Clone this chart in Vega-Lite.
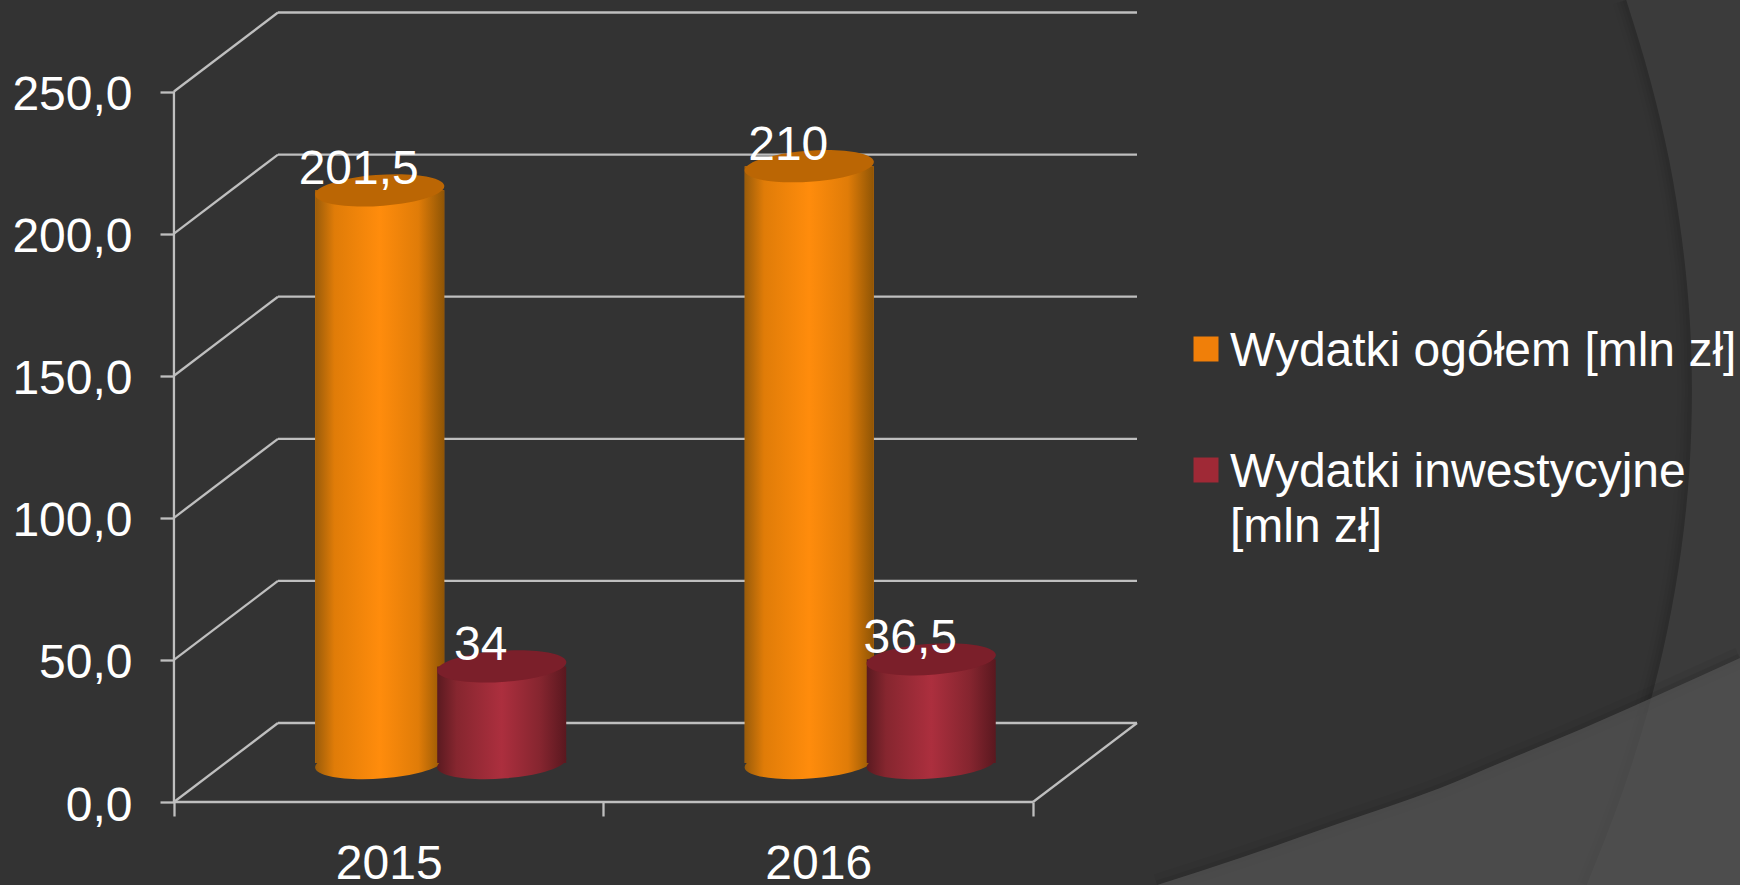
{
"$schema":"https://vega.github.io/schema/vega-lite/v6.json",
"width":1740,"height":885,"padding":0,"autosize":{"type":"none"},"background":"#333333",
"config":{"view":{"stroke":null},"font":"Liberation Sans","style":{"guide-label":{"lineHeight":55,"dy":3}}},
"datasets":{
"bars":[
{"year":2015,"series":"Wydatki ogółem [mln zł]","value":201.5,"label":"201,5"},
{"year":2016,"series":"Wydatki ogółem [mln zł]","value":210,"label":"210"},
{"year":2015,"series":"Wydatki inwestycyjne [mln zł]","value":34,"label":"34"},
{"year":2016,"series":"Wydatki inwestycyjne [mln zł]","value":36.5,"label":"36,5"}],
"grid":[{"value":0},{"value":50},{"value":100},{"value":150},{"value":200},{"value":250}],
"swoosh":[{"a":2016.789,"b":-29.2},{"a":2016.982,"b":-19.7},{"a":2017.215,"b":-7.4},{"a":2017.448,"b":4.9},{"a":2017.604,"b":14.8},{"a":2017.727,"b":22.5},{"a":2017.944,"b":36.9},{"a":2018.146,"b":50.7}],
"arc":[{"a":2017.881,"b":282.2},{"a":2017.937,"b":254},{"a":2017.981,"b":225.9},{"a":2018.011,"b":197.7},{"a":2018.029,"b":169.6},{"a":2018.034,"b":144.6},{"a":2018.028,"b":116.8},{"a":2018.009,"b":88.7},{"a":2017.977,"b":60.5},{"a":2017.932,"b":32.4},{"a":2017.874,"b":4.2},{"a":2017.789,"b":-29.2}]
},
"layer":[
{"data":{"name":"arc"},"mark":{"type":"line","orient":"horizontal","color":"#000000","opacity":0.02,"strokeWidth":28,"interpolate":"monotone"},
 "encoding":{"x":{"field":"a","type":"quantitative","scale":{"domain":[2014.095,2018.146],"nice":false,"zero":false,"padding":0},
   "axis":{"orient":"bottom","offset":-83,"values":[2014.5,2015,2015.5,2016,2016.5],"title":null,"domain":false,"grid":false,"tickSize":14,"tickWidth":2.3,"tickColor":"#bfbfbf","tickOpacity":{"condition":{"test":"datum.value % 1 == 0","value":0},"value":1},"labelExpr":"datum.value % 1 == 0 ? format(datum.value,'d') : ''","labelFontSize":48,"labelColor":"#ffffff","labelPadding":21,"labelOverlap":false,"labelFlush":false,"labelAngle":0,"labelLimit":0}},
  "y":{"field":"b","type":"quantitative","scale":{"domain":[-29.2,282.2],"nice":false,"zero":false,"padding":0},
   "axis":{"orient":"left","offset":-174,"values":[0,50,100,150,200,250],"title":null,"domain":false,"grid":false,"tickSize":14,"tickWidth":2.3,"tickColor":"#bfbfbf","labelExpr":"replace(format(datum.value,'.1f'),'.',',')","labelFontSize":48,"labelColor":"#ffffff","labelPadding":28,"labelOffset":1,"labelLimit":0,"labelOverlap":false,"labelFlush":false}}}},
{"data":{"name":"arc"},"mark":{"type":"line","orient":"horizontal","color":"#000000","opacity":0.03,"strokeWidth":20,"interpolate":"monotone"},
 "encoding":{"x":{"field":"a","type":"quantitative"},"y":{"field":"b","type":"quantitative"}}},
{"data":{"name":"arc"},"mark":{"type":"line","orient":"horizontal","color":"#000000","opacity":0.04,"strokeWidth":13,"interpolate":"monotone"},
 "encoding":{"x":{"field":"a","type":"quantitative"},"y":{"field":"b","type":"quantitative"}}},
{"data":{"name":"arc"},"mark":{"type":"line","orient":"horizontal","color":"#000000","opacity":0.04,"strokeWidth":7,"interpolate":"monotone"},
 "encoding":{"x":{"field":"a","type":"quantitative"},"y":{"field":"b","type":"quantitative"}}},
{"data":{"name":"arc"},"mark":{"type":"area","orient":"horizontal","color":"#3b3b3b","interpolate":"monotone"},
 "encoding":{"x":{"field":"a","type":"quantitative"},"x2":{"datum":2018.146},"y":{"field":"b","type":"quantitative"}}},
{"data":{"name":"swoosh"},"mark":{"type":"line","color":"#000000","opacity":0.04,"strokeWidth":22,"interpolate":"monotone"},
 "encoding":{"x":{"field":"a","type":"quantitative"},"y":{"field":"b","type":"quantitative"}}},
{"data":{"name":"swoosh"},"mark":{"type":"line","color":"#000000","opacity":0.06,"strokeWidth":9,"interpolate":"monotone"},
 "encoding":{"x":{"field":"a","type":"quantitative"},"y":{"field":"b","type":"quantitative"}}},
{"data":{"name":"swoosh"},"mark":{"type":"area","color":"#565656","opacity":0.7,"interpolate":"monotone"},
 "encoding":{"x":{"field":"a","type":"quantitative"},"y":{"field":"b","type":"quantitative"},"y2":{"datum":-29.2}}},

{"data":{"name":"grid"},"mark":{"type":"rule","color":"#bfbfbf","strokeWidth":2.3,"xOffset":104,"x2Offset":104,"yOffset":-79},
 "encoding":{"x":{"datum":2014.5,"type":"quantitative"},"x2":{"datum":2016.5},"y":{"field":"value","type":"quantitative"}}},
{"data":{"name":"grid"},"mark":{"type":"rule","color":"#bfbfbf","strokeWidth":2.3,"x2Offset":104,"y2Offset":-79},
 "encoding":{"x":{"datum":2014.5,"type":"quantitative"},"x2":{"datum":2014.5},"y":{"field":"value","type":"quantitative"},"y2":{"field":"value"}}},
{"data":{"values":[{"value":0}]},"mark":{"type":"rule","color":"#bfbfbf","strokeWidth":2.3,"x2Offset":104,"y2Offset":-79},
 "encoding":{"x":{"datum":2016.5,"type":"quantitative"},"x2":{"datum":2016.5},"y":{"field":"value","type":"quantitative"},"y2":{"field":"value"}}},
{"data":{"values":[{"value":0}]},"mark":{"type":"rule","color":"#bfbfbf","strokeWidth":2.3},
 "encoding":{"x":{"datum":2014.5,"type":"quantitative"},"x2":{"datum":2016.5},"y":{"field":"value","type":"quantitative"}}},
{"data":{"values":[{"low":0,"high":250}]},"mark":{"type":"rule","color":"#bfbfbf","strokeWidth":2.3},
 "encoding":{"x":{"datum":2014.5,"type":"quantitative"},"y":{"field":"low","type":"quantitative"},"y2":{"field":"high"}}},

{"data":{"name":"bars"},"transform":[{"filter":"datum.series == 'Wydatki ogółem [mln zł]'"}],
 "mark":{"type":"point","filled":true,"opacity":1,"strokeWidth":0,"size":16641,"xOffset":-9,"yOffset":-39,"shape":"M-1,0.08 A1,0.24 -4 1 1 1,-0.08 A1,0.24 -4 1 1 -1,0.08 Z","fill":{"x1":0,"x2":1,"y1":0,"y2":0,"gradient":"linear","stops":[{"offset":0,"color":"#9a5c0a"},{"offset":0.15,"color":"#e07c08"},{"offset":0.5,"color":"#ff8c0c"},{"offset":0.8,"color":"#e07c08"},{"offset":1,"color":"#8f5505"}]}},
 "encoding":{"x":{"field":"year","type":"quantitative"},"y":{"datum":0,"type":"quantitative"}}},
{"data":{"name":"bars"},"mark":{"type":"bar","size":129,"orient":"vertical","xOffset":-9,"yOffset":-39,"y2Offset":-39},
 "transform":[{"filter":"datum.series == 'Wydatki ogółem [mln zł]'"}],
 "encoding":{"x":{"field":"year","type":"quantitative"},"y":{"field":"value","type":"quantitative","stack":null},"y2":{"datum":0},
  "color":{"field":"series","type":"nominal","scale":{"domain":["Wydatki ogółem [mln zł]","Wydatki inwestycyjne [mln zł]"],"range":["#F07F09","#9F2936"]},
   "legend":{"orient":"none","legendX":1182,"legendY":325,"title":null,"symbolType":"square","symbolSize":625,"symbolStrokeWidth":0,"labelFontSize":48,"labelColor":"#ffffff","labelOffset":0,"labelLimit":0,"rowPadding":70,"labelExpr":"datum.label == 'Wydatki inwestycyjne [mln zł]' ? ['Wydatki inwestycyjne','[mln zł]'] : datum.label"}}}},
{"data":{"name":"bars"},"transform":[{"filter":"datum.series == 'Wydatki ogółem [mln zł]'"}],
 "mark":{"type":"bar","size":129,"orient":"vertical","xOffset":-9,"yOffset":-39,"y2Offset":-39,"fill":{"x1":0,"x2":1,"y1":0,"y2":0,"gradient":"linear","stops":[{"offset":0,"color":"#9a5c0a"},{"offset":0.15,"color":"#e07c08"},{"offset":0.5,"color":"#ff8c0c"},{"offset":0.8,"color":"#e07c08"},{"offset":1,"color":"#8f5505"}]}},
 "encoding":{"x":{"field":"year","type":"quantitative"},"y":{"field":"value","type":"quantitative","stack":null},"y2":{"datum":0}}},
{"data":{"name":"bars"},"transform":[{"filter":"datum.series == 'Wydatki ogółem [mln zł]'"}],
 "mark":{"type":"point","filled":true,"opacity":1,"strokeWidth":0,"size":16641,"xOffset":-9,"yOffset":-39,"shape":"M-1,0.08 A1,0.24 -4 1 1 1,-0.08 A1,0.24 -4 1 1 -1,0.08 Z","fill":"#bb6604"},
 "encoding":{"x":{"field":"year","type":"quantitative"},"y":{"field":"value","type":"quantitative"}}},

{"data":{"name":"bars"},"transform":[{"filter":"datum.series != 'Wydatki ogółem [mln zł]'"}],
 "mark":{"type":"point","filled":true,"opacity":1,"strokeWidth":0,"size":16641,"xOffset":113,"yOffset":-39,"shape":"M-1,0.08 A1,0.24 -4 1 1 1,-0.08 A1,0.24 -4 1 1 -1,0.08 Z","fill":{"x1":0,"x2":1,"y1":0,"y2":0,"gradient":"linear","stops":[{"offset":0,"color":"#5a1a20"},{"offset":0.15,"color":"#86262f"},{"offset":0.5,"color":"#ac2f3e"},{"offset":0.8,"color":"#85252f"},{"offset":1,"color":"#5a181f"}]}},
 "encoding":{"x":{"field":"year","type":"quantitative"},"y":{"datum":0,"type":"quantitative"}}},
{"data":{"name":"bars"},"transform":[{"filter":"datum.series != 'Wydatki ogółem [mln zł]'"}],
 "mark":{"type":"bar","size":129,"orient":"vertical","xOffset":113,"yOffset":-39,"y2Offset":-39,"fill":{"x1":0,"x2":1,"y1":0,"y2":0,"gradient":"linear","stops":[{"offset":0,"color":"#5a1a20"},{"offset":0.15,"color":"#86262f"},{"offset":0.5,"color":"#ac2f3e"},{"offset":0.8,"color":"#85252f"},{"offset":1,"color":"#5a181f"}]}},
 "encoding":{"x":{"field":"year","type":"quantitative"},"y":{"field":"value","type":"quantitative","stack":null},"y2":{"datum":0}}},
{"data":{"name":"bars"},"transform":[{"filter":"datum.series != 'Wydatki ogółem [mln zł]'"}],
 "mark":{"type":"point","filled":true,"opacity":1,"strokeWidth":0,"size":16641,"xOffset":113,"yOffset":-39,"shape":"M-1,0.08 A1,0.24 -4 1 1 1,-0.08 A1,0.24 -4 1 1 -1,0.08 Z","fill":"#7b1f2a"},
 "encoding":{"x":{"field":"year","type":"quantitative"},"y":{"field":"value","type":"quantitative"}}},

{"data":{"name":"bars"},"transform":[{"filter":"datum.series == 'Wydatki ogółem [mln zł]'"}],
 "mark":{"type":"text","fontSize":48,"color":"#ffffff","baseline":"alphabetic","align":"center","xOffset":-30,"yOffset":-45},
 "encoding":{"x":{"field":"year","type":"quantitative"},"y":{"field":"value","type":"quantitative"},"text":{"field":"label"}}},
{"data":{"name":"bars"},"transform":[{"filter":"datum.series != 'Wydatki ogółem [mln zł]'"}],
 "mark":{"type":"text","fontSize":48,"color":"#ffffff","baseline":"alphabetic","align":"center","xOffset":92,"yOffset":-45},
 "encoding":{"x":{"field":"year","type":"quantitative"},"y":{"field":"value","type":"quantitative"},"text":{"field":"label"}}}
]
}
